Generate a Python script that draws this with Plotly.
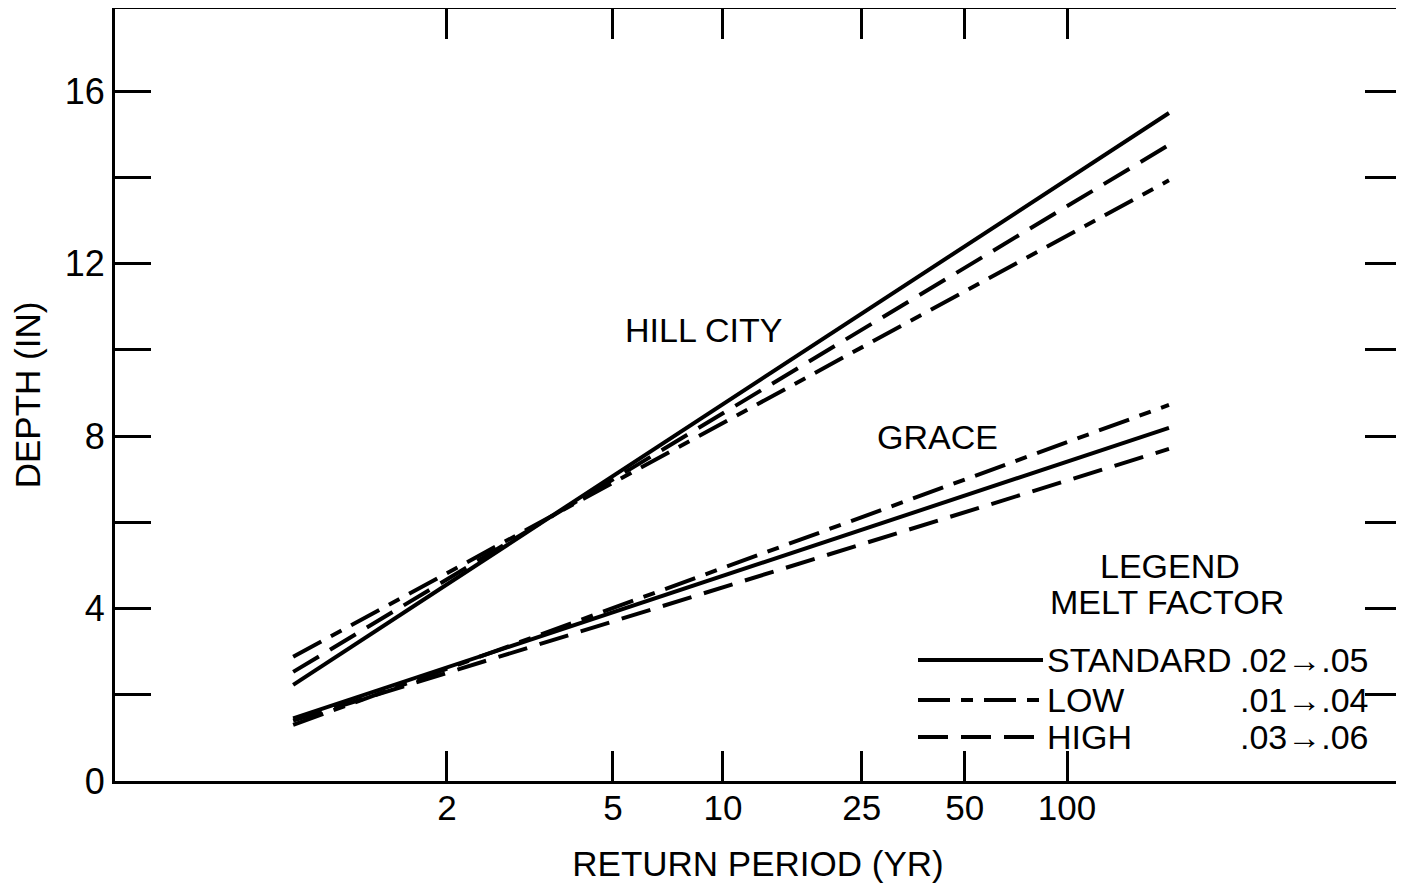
import numpy as np
import plotly.graph_objects as go

# ---- data ----
return_period = [1.16, 200]          # start / end of every curve (yr)
hill_standard = [2.23, 15.49]
hill_low = [2.88, 13.93]
hill_high = [2.53, 14.75]
grace_standard = [1.45, 8.19]
grace_low = [1.30, 8.72]
grace_high = [1.40, 7.70]

tick_periods = [2, 5, 10, 25, 50, 100]
tick_labels = ["2", "5", "10", "25", "50", "100"]
depth_ticks = [0, 2, 4, 6, 8, 10, 12, 14, 16]
depth_labels = ["0", "", "4", "", "8", "", "12", "", "16"]

legend_names = ["STANDARD", "LOW", "HIGH"]
legend_factors = [".02\u2192.05", ".01\u2192.04", ".03\u2192.06"]


def gumbel(T):
    T = np.asarray(T, dtype=float)
    return -np.log(-np.log(1.0 - 1.0 / T))


# page is rendered with the default 8px body margin
OFF = 8
W, H = 1404 - OFF, 890 - OFF
# desired plot area in page pixels: x 115..1401, y 9..781
L = 115 - OFF
R = W - (1401 - OFF)
T_ = 9 - OFF
B = H - (781 - OFF)
PW, PH = W - L - R, H - T_ - B


def px(x):
    return (x - OFF - L) / PW


def py(y):
    return (H - B - (y - OFF)) / PH


FONT = "Liberation Sans, Arial, Helvetica, sans-serif"
DASH_LOW = "32px,11px,12px,11px"
DASH_HIGH = "30px,13px"
styles = {"STANDARD": "solid", "LOW": DASH_LOW, "HIGH": DASH_HIGH}

xv = gumbel(return_period)
fig = go.Figure()
for name, ys in [("HILL CITY STANDARD", hill_standard), ("HILL CITY LOW", hill_low),
                 ("HILL CITY HIGH", hill_high), ("GRACE STANDARD", grace_standard),
                 ("GRACE LOW", grace_low), ("GRACE HIGH", grace_high)]:
    kind = name.split()[-1]
    fig.add_trace(go.Scatter(x=xv, y=ys, mode="lines", name=name, showlegend=False,
                             line=dict(color="black", width=4, dash=styles[kind])))

annotations = []
for text, x, y in [("HILL CITY", 703, 330), ("GRACE", 937, 437),
                   ("LEGEND", 1170, 566), ("MELT FACTOR", 1167, 602)]:
    annotations.append(dict(text=text, x=px(x), y=py(y), xref="paper", yref="paper",
                            showarrow=False, xanchor="center", yanchor="middle",
                            font=dict(family=FONT, size=34, color="black")))

shapes = []
row_y = [660, 700, 737]
for name, fac, y in zip(legend_names, legend_factors, row_y):
    shapes.append(dict(type="line", xref="paper", yref="paper", x0=px(918), x1=px(1043),
                       y0=py(y), y1=py(y), line=dict(color="black", width=4, dash=styles[name])))
    annotations.append(dict(text=name, x=px(1045), y=py(y), xref="paper", yref="paper",
                            showarrow=False, xanchor="left", yanchor="middle",
                            font=dict(family=FONT, size=34, color="black")))
    annotations.append(dict(text=fac, x=px(1371), y=py(y), xref="paper", yref="paper",
                            showarrow=False, xanchor="right", yanchor="middle",
                            font=dict(family=FONT, size=34, color="black")))

fig.update_layout(
    width=W, height=H,
    margin=dict(l=L, r=R, t=T_, b=B, autoexpand=False),
    paper_bgcolor="white", plot_bgcolor="white",
    font=dict(family=FONT, size=34, color="black"),
    showlegend=False,
    annotations=annotations,
    shapes=shapes,
    xaxis=dict(
        range=[-1.90, 6.88], tickmode="array", tickvals=gumbel(tick_periods), ticktext=tick_labels,
        ticks="inside", ticklen=30, tickwidth=3, tickcolor="black",
        showline=True, linewidth=3, linecolor="black", mirror="ticks",
        showgrid=False, zeroline=False, ticklabelstandoff=-6,
        tickfont=dict(family=FONT, size=35, color="black"),
        title=dict(text="RETURN PERIOD (YR)", standoff=26,
                   font=dict(family=FONT, size=35, color="black")),
    ),
    yaxis=dict(
        range=[0, (781 - 9) / 43.125], tickmode="array", tickvals=depth_ticks, ticktext=depth_labels,
        ticks="inside", ticklen=36, tickwidth=3, tickcolor="black",
        showline=True, linewidth=3, linecolor="black", mirror="ticks",
        showgrid=False, zeroline=False,
        tickfont=dict(family=FONT, size=36, color="black"),
        title=dict(text="DEPTH (IN)", standoff=16,
                   font=dict(family=FONT, size=35, color="black")),
    ),
)

fig.write_html("out.html")
